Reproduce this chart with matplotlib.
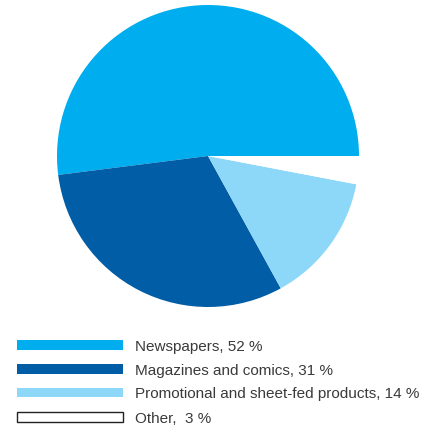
import matplotlib
matplotlib.use('Agg')
import matplotlib.pyplot as plt
from matplotlib.patches import Rectangle

labels = ['Newspapers, 52 %', 'Magazines and comics, 31 %',
          'Promotional and sheet-fed products, 14 %', 'Other,  3 %']
shares = [52, 31, 14, 3]
colors = ['#00AEEF', '#005DA6', '#8DD8F8', '#FFFFFF']

W, H = 434, 427
fig = plt.figure(figsize=(W / 100, H / 100), dpi=100)

# pie placed by pixel centre / radius
cx, cy, r = 208, 157, 151
ax = fig.add_axes([(cx - r) / W, 1 - (cy + r) / H, 2 * r / W, 2 * r / H])
ax.pie(shares, colors=colors, startangle=0, counterclock=True,
       wedgeprops=dict(linewidth=0))
ax.set_xlim(-1, 1)
ax.set_ylim(-1, 1)
ax.set_aspect('equal')
ax.axis('off')

# legend rows
row_y = [346, 370, 393.5, 418]
for lab, col, y in zip(labels, colors, row_y):
    edge = '#222222' if col == '#FFFFFF' else 'none'
    fig.patches.append(Rectangle((17 / W, 1 - (y + 4.5) / H), 106 / W, 9.5 / H,
                                 transform=fig.transFigure, facecolor=col,
                                 edgecolor=edge, linewidth=1.0))
    fig.text(135 / W, 1 - (y + 1) / H, lab, fontsize=10.95, color='#3a3a3a',
             family='Liberation Sans', va='center', ha='left')

fig.savefig('out.png', dpi=100)
